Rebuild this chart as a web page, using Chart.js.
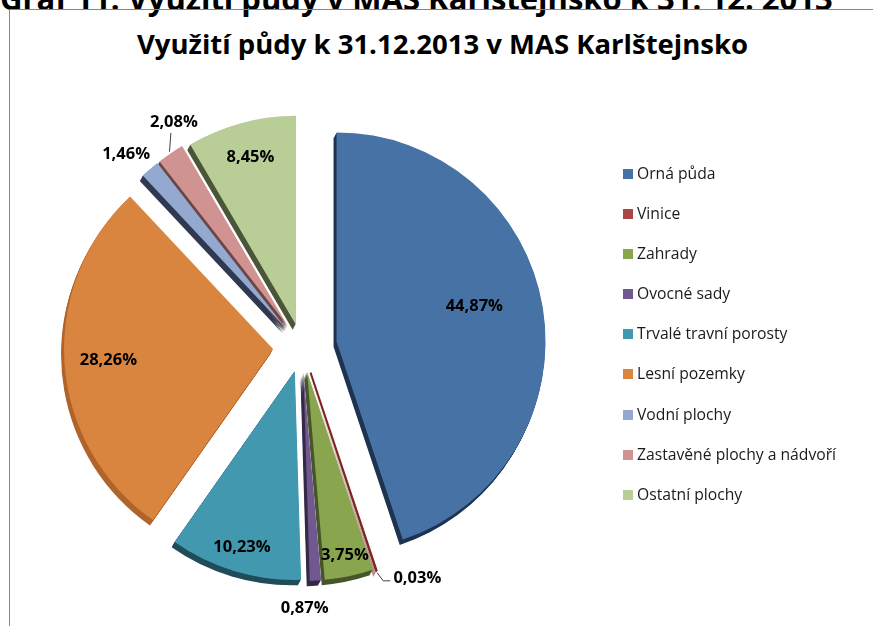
<!DOCTYPE html>
<html lang="cs">
<head>
<meta charset="utf-8">
<title>Využití půdy</title>
<script src="https://cdn.jsdelivr.net/npm/chart.js@4"></script>
<style>
    html, body { margin: 0; padding: 0; background: #fff; overflow: hidden; }
    #page { position: relative; width: 873px; height: 626px; }
    #header {
        position: absolute; left: 0; top: -23px; white-space: nowrap;
        font: bold 31px "Open Sans", sans-serif; color: #000;
    }
    #frame {
        position: absolute; left: 9px; top: 9px; width: 880px; height: 640px;
        border-left: 1px solid #868686; border-top: 1px solid #868686;
    }
    #title {
        position: absolute; left: 0; width: 885px; top: 25px; text-align: center;
        font: bold 27.5px "Open Sans", sans-serif; color: #000;
    }
    #chart { position: absolute; left: 0; top: 0; }
    #legend { position: absolute; left: 623px; top: 163px; font: 15.7px "Open Sans", sans-serif; color: #1a1a1a; }
    #legend div { height: 40.1px; line-height: 20px; white-space: nowrap; }
    #legend span { display: inline-block; width: 10px; height: 10px; margin-right: 4px; vertical-align: 0px; }
</style>
</head>
<body>
<div id="page">
    <div id="header">Graf 11: Využití půdy v MAS Karlštejnsko k 31. 12. 2013</div>
    <div id="frame"></div>
    <div id="title">Využití půdy k 31.12.2013 v MAS Karlštejnsko</div>
    <canvas id="chart" width="873" height="626"></canvas>
    <div id="legend"></div>
</div>
<script>
// Data (hodnoty v %)
const categories = ['Orná půda', 'Vinice', 'Zahrady', 'Ovocné sady', 'Trvalé travní porosty',
    'Lesní pozemky', 'Vodní plochy', 'Zastavěné plochy a nádvoří', 'Ostatní plochy'];
const shares = [44.87, 0.03, 3.75, 0.87, 10.23, 28.26, 1.46, 2.08, 8.45];
const shareLabels = ['44,87%', '0,03%', '3,75%', '0,87%', '10,23%', '28,26%', '1,46%', '2,08%', '8,45%'];

const colors = ['#4672a6', '#aa4643', '#89a54e', '#71588f', '#4298af', '#d9853f', '#93a9d0', '#d19392', '#b9cd96'];
const sideColors = ['#1e3350', '#6a1e1c', '#46552a', '#35294a', '#1f4c58', '#b0642a', '#2f3a52', '#6a4646', '#4b5638'];
// vysunutí výsečí v px
const explode = [35, 27, 25, 25, 25, 29, 25, 25, 23];
// umístění popisků: [násobek poloměru, posun úhlu ve stupních, vodicí čára]
const labelPos = [[0.68, -5, 0], [1.11, -9, 1], [0.9, 0, 0], [1.13, 3, 0], [0.88, 0, 0],
    [0.79, 0, 0], [1.13, -2, 0], [1.12, 5, 1], [0.83, 0, 0]];

// Legenda
const legend = document.getElementById('legend');
categories.forEach((c, i) => {
    const row = document.createElement('div');
    row.innerHTML = `<span style="background:${colors[i]}"></span>${c}`;
    legend.appendChild(row);
});

const DEPTH = 6;

// Vysunutí výsečí (exploded pie)
const explodePlugin = {
    id: 'explode',
    afterDatasetUpdate(chart, args) {
        args.meta.data.forEach((arc, i) => {
            const mid = (arc.startAngle + arc.endAngle) / 2;
            arc.x += Math.cos(mid) * explode[i];
            arc.y += Math.sin(mid) * explode[i];
        });
    }
};

// Boční stěna (3D efekt)
const depthPlugin = {
    id: 'depth',
    beforeDatasetDraw(chart, args) {
        const ctx = chart.ctx;
        ctx.save();
        args.meta.data.forEach((arc, i) => {
            const { x, y, startAngle, endAngle, outerRadius } = arc.getProps(['x', 'y', 'startAngle', 'endAngle', 'outerRadius'], true);
            ctx.fillStyle = sideColors[i];
            for (let k = 1; k <= DEPTH; k++) {
                const dx = -0.5 * k, dy = 0.9 * k;
                ctx.beginPath();
                ctx.moveTo(x + dx, y + dy);
                ctx.arc(x + dx, y + dy, outerRadius, startAngle, endAngle);
                ctx.closePath();
                ctx.fill();
            }
        });
        ctx.restore();
    }
};

// Popisky hodnot
const labelPlugin = {
    id: 'pieLabels',
    afterDatasetsDraw(chart) {
        const ctx = chart.ctx;
        const meta = chart.getDatasetMeta(0);
        ctx.save();
        ctx.font = 'bold 16.5px "Open Sans", sans-serif';
        ctx.fillStyle = '#000';
        ctx.textAlign = 'center';
        ctx.textBaseline = 'middle';
        meta.data.forEach((arc, i) => {
            const [f, dAng, leader] = labelPos[i];
            const mid = (arc.startAngle + arc.endAngle) / 2;
            const a = mid + dAng * Math.PI / 180;
            const r = arc.outerRadius;
            const lx = arc.x + Math.cos(a) * r * f;
            const ly = arc.y + Math.sin(a) * r * f;
            if (leader) {
                const ex = arc.x + Math.cos(mid) * (r + 2);
                const ey = arc.y + Math.sin(mid) * (r + 2);
                ctx.strokeStyle = '#404040';
                ctx.lineWidth = 1;
                ctx.beginPath();
                ctx.moveTo(ex, ey);
                if (i === 1) {
                    ctx.lineTo(ex + 6, ey + 8);
                    ctx.lineTo(lx - 27, ey + 8);
                } else {
                    ctx.lineTo(lx - 3, ly + 11);
                }
                ctx.stroke();
            }
            ctx.fillText(shareLabels[i], lx, ly);
        });
        ctx.restore();
    }
};

new Chart(document.getElementById('chart'), {
    type: 'pie',
    data: {
        labels: categories,
        datasets: [{
            data: shares,
            backgroundColor: colors,
            // tenká výseč Vinice je vidět jen díky okraji
            borderColor: ['#fff', '#7d2624', '#fff', '#fff', '#fff', '#fff', '#fff', '#fff', '#fff'],
            borderWidth: [0, 2, 0, 0, 0, 0, 0, 0, 0],
            radius: 209
        }]
    },
    options: {
        responsive: false,
        animation: false,
        layout: { padding: { left: 0, right: 269, top: 101, bottom: 33 } },
        plugins: {
            legend: { display: false },
            tooltip: { enabled: false }
        },
        events: []
    },
    plugins: [explodePlugin, depthPlugin, labelPlugin]
});
</script>
</body>
</html>
